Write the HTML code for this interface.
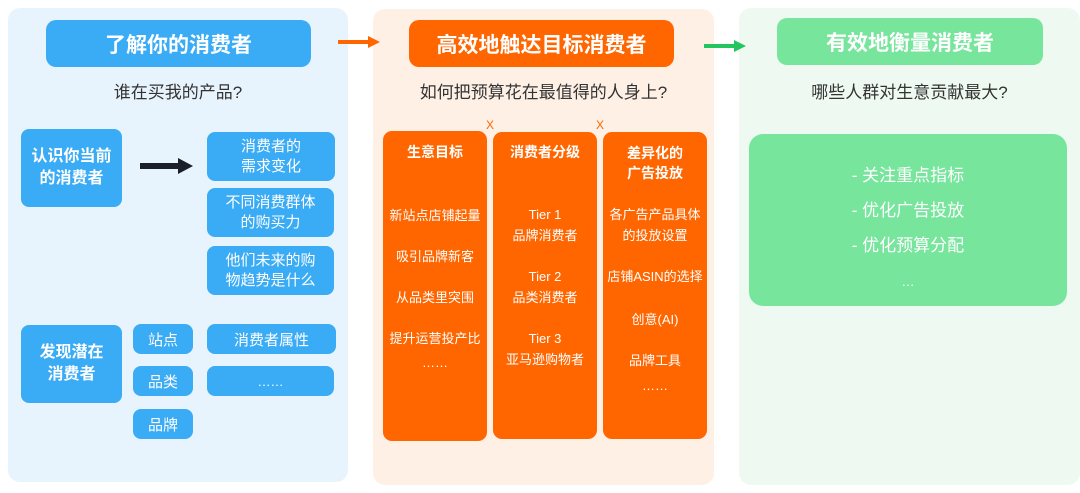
<!DOCTYPE html>
<html><head><meta charset="utf-8"><style>
*{margin:0;padding:0;box-sizing:border-box}
body{width:1080px;height:493px;background:#fff;position:relative;overflow:hidden;font-family:"Liberation Sans","Noto Sans CJK SC",sans-serif}
.a{position:absolute;display:flex;align-items:center;justify-content:center;text-align:center}
.b{background:#3aabf5;color:#fff;border-radius:8px}
.o{background:#ff6600;color:#fff;border-radius:8px}
.t{color:#333;font-size:17px}
.col{position:absolute;background:#ff6600;color:#fff;border-radius:9px;text-align:center;font-size:13px;line-height:21px}
.col .h{font-size:14px;font-weight:bold;line-height:19px;margin-top:12px}
</style></head><body>
<div style="position:absolute;left:8px;top:8px;width:340px;height:474px;background:#e8f4fd;border-radius:12px"></div>
<div style="position:absolute;left:373px;top:9px;width:341px;height:476px;background:#fff0e6;border-radius:12px"></div>
<div style="position:absolute;left:739px;top:8px;width:341px;height:477px;background:#eefaf1;border-radius:12px"></div>

<div class="a b" style="left:46px;top:20px;width:265px;height:47px;font-size:21px;font-weight:bold;border-radius:10px">了解你的消费者</div>
<div class="a t" style="left:8px;top:78px;width:340px;height:24px">谁在买我的产品?</div>
<div class="a b" style="left:21px;top:129px;width:101px;height:78px;font-size:16px;font-weight:bold;line-height:22px">认识你当前<br>的消费者</div>
<div style="position:absolute;left:140px;top:163px;width:40px;height:6px;background:#1a1f2b"></div>
<div style="position:absolute;left:178px;top:158px;border-left:15px solid #1a1f2b;border-top:8px solid transparent;border-bottom:8px solid transparent"></div>
<div class="a b" style="left:207px;top:132px;width:128px;height:49px;font-size:15px;line-height:20px">消费者的<br>需求变化</div>
<div class="a b" style="left:207px;top:188px;width:127px;height:49px;font-size:15px;line-height:20px">不同消费群体<br>的购买力</div>
<div class="a b" style="left:207px;top:246px;width:127px;height:49px;font-size:15px;line-height:20px">他们未来的购<br>物趋势是什么</div>
<div class="a b" style="left:21px;top:325px;width:101px;height:78px;font-size:16px;font-weight:bold;line-height:22px">发现潜在<br>消费者</div>
<div class="a b" style="left:133px;top:324px;width:60px;height:30px;font-size:15px">站点</div>
<div class="a b" style="left:133px;top:366px;width:60px;height:30px;font-size:15px">品类</div>
<div class="a b" style="left:133px;top:409px;width:60px;height:30px;font-size:15px">品牌</div>
<div class="a b" style="left:207px;top:324px;width:129px;height:30px;font-size:15px">消费者属性</div>
<div class="a b" style="left:207px;top:366px;width:127px;height:30px;font-size:13px">……</div>

<div style="position:absolute;left:338px;top:40px;width:32px;height:4px;background:#ff6600"></div>
<div style="position:absolute;left:368px;top:36px;border-left:12px solid #ff6600;border-top:6px solid transparent;border-bottom:6px solid transparent"></div>
<div class="a o" style="left:409px;top:20px;width:265px;height:47px;font-size:21px;font-weight:bold;border-radius:10px">高效地触达目标消费者</div>
<div class="a t" style="left:373px;top:78px;width:341px;height:24px">如何把预算花在最值得的人身上?</div>
<div class="a" style="left:482px;top:117px;width:16px;height:16px;color:#ff6600;font-size:12px">X</div>
<div class="a" style="left:592px;top:117px;width:16px;height:16px;color:#ff6600;font-size:12px">X</div>
<div class="col" style="left:383px;top:131px;width:104px;height:310px">
<div class="h">生意目标</div>
<div style="margin-top:43px">新站点店铺起量</div>
<div style="margin-top:20px">吸引品牌新客</div>
<div style="margin-top:20px">从品类里突围</div>
<div style="margin-top:20px">提升运营投产比</div>
<div style="margin-top:3px">……</div></div>
<div class="col" style="left:493px;top:132px;width:104px;height:307px">
<div class="h" style="margin-top:11px">消费者分级</div>
<div style="margin-top:42px">Tier 1<br>品牌消费者</div>
<div style="margin-top:20px">Tier 2<br>品类消费者</div>
<div style="margin-top:20px">Tier 3<br>亚马逊购物者</div></div>
<div class="col" style="left:603px;top:132px;width:104px;height:307px">
<div class="h" style="margin-top:11px;line-height:20px">差异化的<br>广告投放</div>
<div style="margin-top:21px">各广告产品具体<br>的投放设置</div>
<div style="margin-top:20px">店铺ASIN的选择</div>
<div style="margin-top:22px">创意(AI)</div>
<div style="margin-top:20px">品牌工具</div>
<div style="margin-top:4px">……</div></div>

<div style="position:absolute;left:704px;top:44px;width:32px;height:4px;background:#22c55e"></div>
<div style="position:absolute;left:734px;top:40px;border-left:12px solid #22c55e;border-top:6px solid transparent;border-bottom:6px solid transparent"></div>
<div class="a" style="left:777px;top:18px;width:266px;height:47px;background:#77e59c;color:#fff;font-size:21px;font-weight:bold;border-radius:10px">有效地衡量消费者</div>
<div class="a t" style="left:739px;top:78px;width:341px;height:24px">哪些人群对生意贡献最大?</div>
<div style="position:absolute;left:749px;top:134px;width:318px;height:172px;background:#77e59c;border-radius:14px;color:#fff;font-size:17px;text-align:center;line-height:35px;padding-top:24px">- 关注重点指标<br>- 优化广告投放<br>- 优化预算分配<br><span style="font-size:13px;line-height:28px">…</span></div>
</body></html>
